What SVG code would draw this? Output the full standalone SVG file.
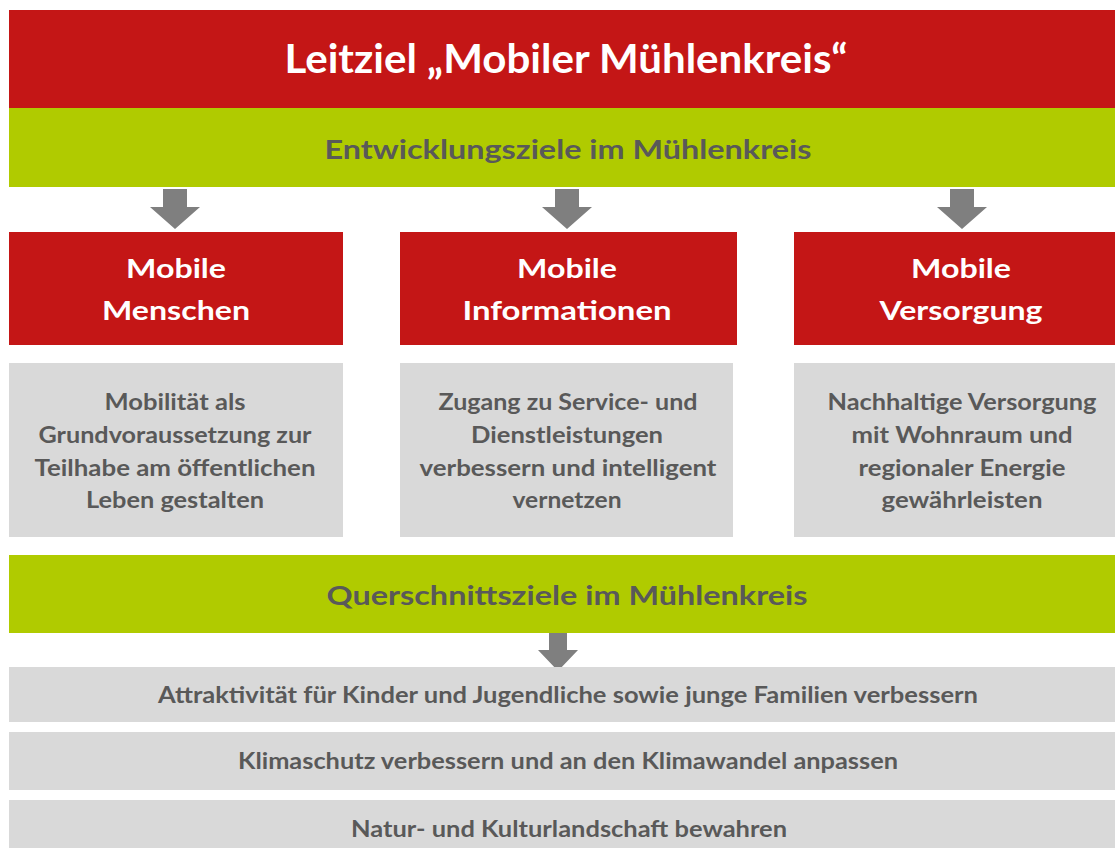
<svg xmlns="http://www.w3.org/2000/svg" width="1115" height="848" viewBox="0 0 1115 848">
  <style>
    .t { font-family: Lato, "Open Sans", "Liberation Sans", sans-serif; font-weight: 700; text-anchor: middle; }
    .red { fill: #C41616; }
    .green { fill: #B0CB00; }
    .grey { fill: #D9D9D9; }
    .w { fill: #FFFFFF; }
    .d { fill: #595959; }
    .arrow { fill: #7F7F7F; }
    .h1 { font-size: 41px; }
    .h2 { font-size: 27px; }
    .h3 { font-size: 27px; }
    .body { font-size: 22px; }
    .row { font-size: 23px; }
  </style>
  <defs>
    <path id="down" d="M-12,0 H12 V18 H25 L0,40 L-25,18 H-12 Z"/>
    <path id="down-small" d="M-9,0 H9 V19 H20 L0,40 L-20,19 H-9 Z"/>
  </defs>
  <rect width="1115" height="848" fill="#FFFFFF"/>

  <g id="leitziel">
    <rect class="red" x="9" y="10" width="1106" height="98"/>
    <text class="t w h1" x="566" y="73" textLength="563" lengthAdjust="spacingAndGlyphs">Leitziel „Mobiler Mühlenkreis“</text>
  </g>
  <g id="entwicklungsziele">
    <rect class="green" x="9" y="108" width="1106" height="79"/>
    <text class="t d h2" x="568" y="159" textLength="487" lengthAdjust="spacingAndGlyphs">Entwicklungsziele im Mühlenkreis</text>
  </g>

  <g id="connectors">
    <use href="#down" class="arrow" x="175" y="189"/>
    <use href="#down" class="arrow" x="567" y="189"/>
    <use href="#down" class="arrow" x="962" y="189"/>
    <use href="#down-small" class="arrow" x="558" y="631"/>
  </g>

  <g id="mobile-menschen">
    <rect class="red" x="9" y="232" width="334" height="113"/>
    <text class="t w h3" x="176" y="278" textLength="100" lengthAdjust="spacingAndGlyphs">Mobile</text>
    <text class="t w h3" x="176" y="320" textLength="148" lengthAdjust="spacingAndGlyphs">Menschen</text>
  </g>
  <g id="mobile-informationen">
    <rect class="red" x="400" y="232" width="337" height="113"/>
    <text class="t w h3" x="567" y="278" textLength="100" lengthAdjust="spacingAndGlyphs">Mobile</text>
    <text class="t w h3" x="567" y="320" textLength="209" lengthAdjust="spacingAndGlyphs">Informationen</text>
  </g>
  <g id="mobile-versorgung">
    <rect class="red" x="794" y="232" width="321" height="113"/>
    <text class="t w h3" x="961" y="278" textLength="100" lengthAdjust="spacingAndGlyphs">Mobile</text>
    <text class="t w h3" x="961" y="320" textLength="163" lengthAdjust="spacingAndGlyphs">Versorgung</text>
  </g>

  <g id="ziel-menschen">
    <rect class="grey" x="9" y="363" width="334" height="174"/>
    <text class="t d body" x="175" y="410" textLength="141" lengthAdjust="spacingAndGlyphs">Mobilität als</text>
    <text class="t d body" x="175" y="443" textLength="273" lengthAdjust="spacingAndGlyphs">Grundvoraussetzung zur</text>
    <text class="t d body" x="175" y="476" textLength="281" lengthAdjust="spacingAndGlyphs">Teilhabe am öffentlichen</text>
    <text class="t d body" x="175" y="508" textLength="178" lengthAdjust="spacingAndGlyphs">Leben gestalten</text>
  </g>
  <g id="ziel-informationen">
    <rect class="grey" x="400" y="363" width="333" height="174"/>
    <text class="t d body" x="568" y="410" textLength="259" lengthAdjust="spacingAndGlyphs">Zugang zu Service- und</text>
    <text class="t d body" x="567" y="443" textLength="192" lengthAdjust="spacingAndGlyphs">Dienstleistungen</text>
    <text class="t d body" x="568" y="476" textLength="297" lengthAdjust="spacingAndGlyphs">verbessern und intelligent</text>
    <text class="t d body" x="567" y="508" textLength="109" lengthAdjust="spacingAndGlyphs">vernetzen</text>
  </g>
  <g id="ziel-versorgung">
    <rect class="grey" x="794" y="363" width="321" height="174"/>
    <text class="t d body" x="962" y="410" textLength="269" lengthAdjust="spacingAndGlyphs">Nachhaltige Versorgung</text>
    <text class="t d body" x="962" y="443" textLength="221" lengthAdjust="spacingAndGlyphs">mit Wohnraum und</text>
    <text class="t d body" x="962" y="476" textLength="207" lengthAdjust="spacingAndGlyphs">regionaler Energie</text>
    <text class="t d body" x="962" y="508" textLength="161" lengthAdjust="spacingAndGlyphs">gewährleisten</text>
  </g>

  <g id="querschnittsziele">
    <rect class="green" x="9" y="555" width="1106" height="78"/>
    <text class="t d h2" x="567" y="605" textLength="481" lengthAdjust="spacingAndGlyphs">Querschnittsziele im Mühlenkreis</text>
  </g>

  <g id="ziel-familien">
    <rect class="grey" x="9" y="667" width="1106" height="55"/>
    <text class="t d row" x="568" y="703" textLength="820" lengthAdjust="spacingAndGlyphs">Attraktivität für Kinder und Jugendliche sowie junge Familien verbessern</text>
  </g>
  <g id="ziel-klima">
    <rect class="grey" x="9" y="732" width="1106" height="58"/>
    <text class="t d row" x="568" y="769" textLength="660" lengthAdjust="spacingAndGlyphs">Klimaschutz verbessern und an den Klimawandel anpassen</text>
  </g>
  <g id="ziel-landschaft">
    <rect class="grey" x="9" y="800" width="1106" height="48"/>
    <text class="t d row" x="569" y="837" textLength="436" lengthAdjust="spacingAndGlyphs">Natur- und Kulturlandschaft bewahren</text>
  </g>
</svg>
